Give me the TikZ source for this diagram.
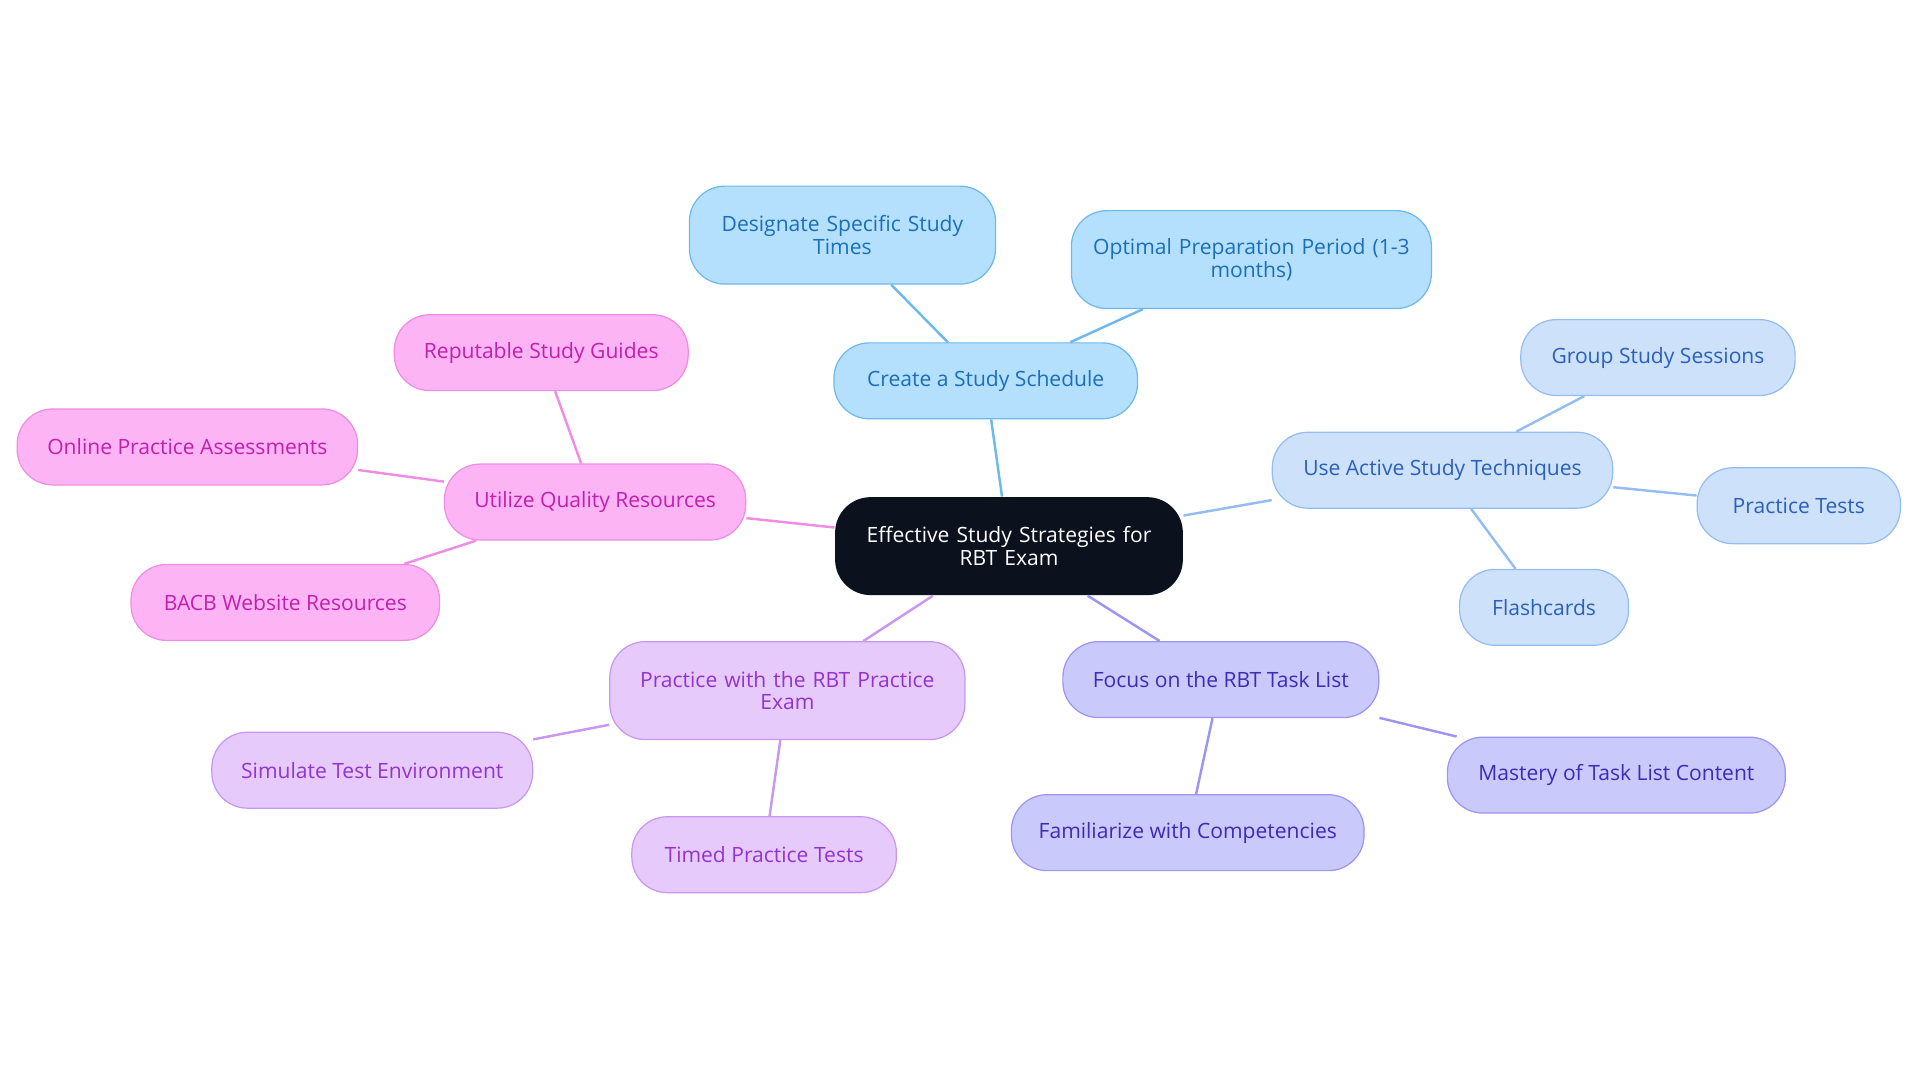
\documentclass[tikz,border=0pt]{standalone}
\usepackage{fontspec}
\setmainfont{Open Sans}
\definecolor{rootc}{HTML}{0B121E}
\definecolor{bfill}{HTML}{B5E0FD}\definecolor{bline}{HTML}{6DB9EC}\definecolor{btext}{HTML}{1A6FB8}
\definecolor{lfill}{HTML}{CDE1FA}\definecolor{lline}{HTML}{93BDF0}\definecolor{ltext}{HTML}{2B60BA}
\definecolor{ifill}{HTML}{C9C9FC}\definecolor{iline}{HTML}{9C96F2}\definecolor{itext}{HTML}{3A2DB6}
\definecolor{vfill}{HTML}{E6CAFC}\definecolor{vline}{HTML}{C996F2}\definecolor{vtext}{HTML}{9334CF}
\definecolor{pfill}{HTML}{FDB4F5}\definecolor{pline}{HTML}{F08CE4}\definecolor{ptext}{HTML}{C21FB0}
\tikzset{
 box/.style={rounded corners=14.5pt,minimum height=31pt,align=center,font=\fontsize{8.6}{9.2}\selectfont,inner sep=2pt,line width=0.5pt},
 bb/.style={box,fill=bfill,draw=bline,text=btext},
 lb/.style={box,fill=lfill,draw=lline,text=ltext},
 ib/.style={box,fill=ifill,draw=iline,text=itext},
 vb/.style={box,fill=vfill,draw=vline,text=vtext},
 pb/.style={box,fill=pfill,draw=pline,text=ptext},
 e/.style={line width=1pt},
}
\begin{document}
\begin{tikzpicture}[x=0.5pt,y=-0.5pt]
\useasboundingbox (0,0) rectangle (1568,884);
\node[box,fill=rootc,text=white,minimum width=142pt,minimum height=40pt,text width=130pt] (r) at (824,446) {Effective Study Strategies for\\RBT Exam};
\node[bb,minimum width=124pt] (s) at (805,311) {Create a Study Schedule};
\node[bb,minimum width=125pt,minimum height=40pt,text width=115pt] (s1) at (688,192) {Designate Specific Study\\Times};
\node[bb,minimum width=147pt,minimum height=40pt,text width=140pt] (s2) at (1022,212) {Optimal Preparation Period (1-3\\months)};
\node[lb,minimum width=139pt] (a) at (1178,384) {Use Active Study Techniques};
\node[lb,minimum width=112pt] (a1) at (1354,292) {Group Study Sessions};
\node[lb,minimum width=83pt] (a2) at (1469,413) {Practice Tests};
\node[lb,minimum width=69pt] (a3) at (1261,496) {Flashcards};
\node[ib,minimum width=129pt] (f) at (997,555) {Focus on the RBT Task List};
\node[ib,minimum width=138pt] (f1) at (1320,633) {Mastery of Task List Content};
\node[ib,minimum width=144pt] (f2) at (970,680) {Familiarize with Competencies};
\node[vb,minimum width=145pt,minimum height=40pt,text width=135pt] (p) at (643,564) {Practice with the RBT Practice\\Exam};
\node[vb,minimum width=131pt] (p1) at (304,629) {Simulate Test Environment};
\node[vb,minimum width=108pt] (p2) at (624,698) {Timed Practice Tests};
\node[pb,minimum width=123pt] (u) at (486,410) {Utilize Quality Resources};
\node[pb,minimum width=120pt] (u1) at (442,288) {Reputable Study Guides};
\node[pb,minimum width=139pt] (u2) at (153,365) {Online Practice Assessments};
\node[pb,minimum width=126pt] (u3) at (233,492) {BACB Website Resources};
\draw[e,bline] (r) -- (s); \draw[e,bline] (s) -- (s1); \draw[e,bline] (s) -- (s2);
\draw[e,lline] (r) -- (a); \draw[e,lline] (a) -- (a1); \draw[e,lline] (a) -- (a2); \draw[e,lline] (a) -- (a3);
\draw[e,iline] (r) -- (f); \draw[e,iline] (f) -- (f1); \draw[e,iline] (f) -- (f2);
\draw[e,vline] (r) -- (p); \draw[e,vline] (p) -- (p1); \draw[e,vline] (p) -- (p2);
\draw[e,pline] (r) -- (u); \draw[e,pline] (u) -- (u1); \draw[e,pline] (u) -- (u2); \draw[e,pline] (u) -- (u3);
\end{tikzpicture}
\end{document}
